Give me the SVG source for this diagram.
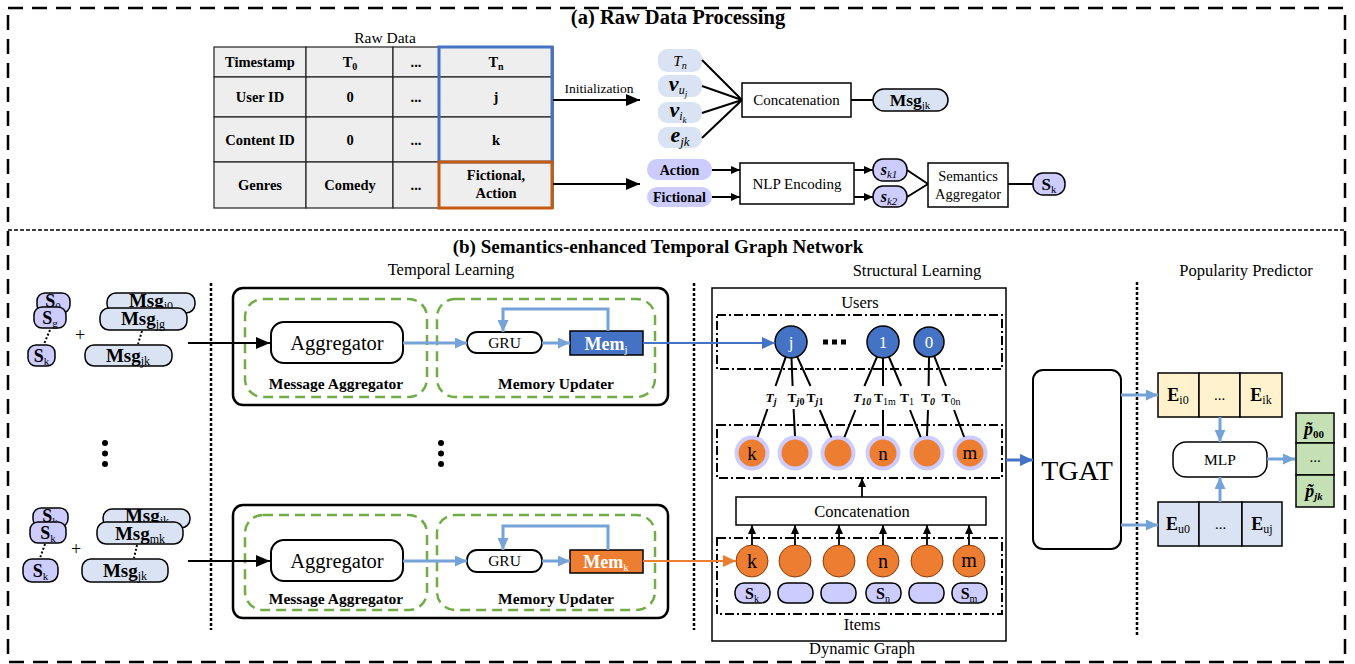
<svg xmlns="http://www.w3.org/2000/svg" width="1355" height="664" viewBox="0 0 1355 664">
<style>
text{font-family:"Liberation Serif","Times New Roman",serif;fill:#000}
.c{text-anchor:middle}
.b{font-weight:bold}
.i{font-style:italic}
.n{font-weight:normal}
.box{fill:#fff;stroke:#000;stroke-width:1.5}
.cell{fill:#eeeeee;stroke:#222;stroke-width:1.2}
.lav{fill:#ccccff;stroke:#000;stroke-width:1.5}
.lav0{fill:#ccccff}
.pb{fill:#dae3f3;stroke:#000;stroke-width:1.5}
.pb0{fill:#dae3f3}
.ln{fill:none;stroke:#000;stroke-width:2}
.up{stroke:#000;stroke-width:1.8}
.lb{fill:none;stroke:#76a3d7;stroke-width:3}
.grn{fill:none;stroke:#70ad47;stroke-width:2.5;stroke-dasharray:10 6}
.dd{fill:none;stroke:#000;stroke-width:2;stroke-dasharray:9 3 2 3}
.dots{fill:none;stroke:#000;stroke-width:2;stroke-dasharray:2 2}
.sep{fill:none;stroke:#000;stroke-width:2.5;stroke-dasharray:3 2}
.unode{fill:#4472c4;stroke:#000;stroke-width:1.5}
.inode{fill:#ed7d31;stroke:#8a3c0c;stroke-width:1}
</style>
<defs>
<marker id="mBig" viewBox="0 0 14 12" refX="14" refY="6" markerWidth="14" markerHeight="12" markerUnits="userSpaceOnUse" orient="auto"><path d="M0,0L14,6L0,12z" fill="#000"/></marker>
<marker id="mSm" viewBox="0 0 9 8" refX="9" refY="4" markerWidth="9" markerHeight="8" markerUnits="userSpaceOnUse" orient="auto"><path d="M0,0L9,4L0,8z" fill="#000"/></marker>
<marker id="mLb" viewBox="0 0 12 11" refX="12" refY="5.5" markerWidth="12" markerHeight="11" markerUnits="userSpaceOnUse" orient="auto"><path d="M0,0L12,5.5L0,11z" fill="#76a3d7"/></marker>
<marker id="mBl" viewBox="0 0 13 12" refX="13" refY="6" markerWidth="13" markerHeight="12" markerUnits="userSpaceOnUse" orient="auto"><path d="M0,0L13,6L0,12z" fill="#4472c4"/></marker>
<marker id="mOr" viewBox="0 0 13 12" refX="13" refY="6" markerWidth="13" markerHeight="12" markerUnits="userSpaceOnUse" orient="auto"><path d="M0,0L13,6L0,12z" fill="#ed7d31"/></marker>
</defs>

<!-- frames -->
<g id="frames">
<rect x="8" y="8" width="1337" height="654" fill="none" stroke="#000" stroke-width="2.5" stroke-dasharray="15 9"/>
<line x1="8" y1="230" x2="1345" y2="230" stroke="#000" stroke-width="1.5" stroke-dasharray="4 2"/>
<text x="678" y="24" class="c b" font-size="20.5">(a) Raw Data Processing</text>
<text x="658" y="253" class="c b" font-size="19">(b) Semantics-enhanced Temporal Graph Network</text>
<text x="451" y="275" class="c" font-size="16.5">Temporal Learning</text>
<text x="917" y="276" class="c" font-size="16.5">Structural Learning</text>
<text x="1246" y="276" class="c" font-size="16.5">Popularity Predictor</text>
<line x1="211" y1="283" x2="211" y2="630" class="sep"/>
<line x1="694" y1="283" x2="694" y2="630" class="sep"/>
<line x1="1137" y1="282" x2="1137" y2="636" class="sep"/>
</g>

<!-- raw data table -->
<g id="raw-table">
<text x="385" y="43" class="c" font-size="15.5">Raw Data</text>
<rect x="214" y="47" width="92" height="30" class="cell"/><rect x="306" y="47" width="87" height="30" class="cell"/><rect x="393" y="47" width="46" height="30" class="cell"/><rect x="439" y="47" width="114" height="30" class="cell"/>
<rect x="214" y="77" width="92" height="40" class="cell"/><rect x="306" y="77" width="87" height="40" class="cell"/><rect x="393" y="77" width="46" height="40" class="cell"/><rect x="439" y="77" width="114" height="40" class="cell"/>
<rect x="214" y="117" width="92" height="45" class="cell"/><rect x="306" y="117" width="87" height="45" class="cell"/><rect x="393" y="117" width="46" height="45" class="cell"/><rect x="439" y="117" width="114" height="45" class="cell"/>
<rect x="214" y="162" width="92" height="46" class="cell"/><rect x="306" y="162" width="87" height="46" class="cell"/><rect x="393" y="162" width="46" height="46" class="cell"/><rect x="439" y="162" width="114" height="46" class="cell"/>
<rect x="439" y="47" width="113" height="115" fill="none" stroke="#4472c4" stroke-width="3"/>
<rect x="439" y="162" width="113" height="46" fill="none" stroke="#c55a11" stroke-width="3"/>
<g class="b" font-size="14.5">
<text x="260" y="67" class="c b">Timestamp</text>
<text x="350" y="67" class="c b">T<tspan font-size="10" dy="3">0</tspan></text>
<text x="416" y="67" class="c b">...</text>
<text x="496" y="67" class="c b">T<tspan font-size="10" dy="3">n</tspan></text>
<text x="260" y="102" class="c b">User ID</text>
<text x="350" y="102" class="c b">0</text>
<text x="416" y="102" class="c b">...</text>
<text x="496" y="102" class="c b">j</text>
<text x="260" y="145" class="c b">Content ID</text>
<text x="350" y="145" class="c b">0</text>
<text x="416" y="145" class="c b">...</text>
<text x="496" y="145" class="c b">k</text>
<text x="260" y="190" class="c b">Genres</text>
<text x="350" y="190" class="c b">Comedy</text>
<text x="416" y="190" class="c b">...</text>
<text x="496" y="180" class="c b">Fictional,</text>
<text x="496" y="198" class="c b">Action</text>
</g>
</g>

<!-- message initialization -->
<g id="msg-inputs">
<rect x="658" y="49" width="44" height="23" rx="9" class="pb0"/>
<rect x="658" y="75" width="44" height="22" rx="9" class="pb0"/>
<rect x="658" y="102" width="44" height="21" rx="9" class="pb0"/>
<rect x="658" y="127" width="44" height="21" rx="9" class="pb0"/>
<text x="680" y="66" class="c i" font-size="15">T<tspan font-size="10" dy="3">n</tspan></text>
<text x="678" y="91" class="c b i" font-size="22">v<tspan class="n i" font-size="12" dy="3">u</tspan><tspan class="n i" font-size="9" dy="3">j</tspan></text>
<text x="678" y="117" class="c b i" font-size="22">v<tspan class="n i" font-size="12" dy="3">i</tspan><tspan class="n i" font-size="9" dy="3">k</tspan></text>
<text x="680" y="142" class="c b i" font-size="22">e<tspan class="n i" font-size="13" dy="4">jk</tspan></text>
</g>
<g id="concat-top">
<rect x="742" y="83" width="109" height="34" class="box"/>
<text x="796.5" y="105" class="c" font-size="15">Concatenation</text>
</g>
<g id="msg-out">
<rect x="873" y="89" width="75" height="22" rx="11" class="pb"/>
<text x="910" y="106" class="c b" font-size="17.5">Msg<tspan class="n" font-size="11" dy="3">jk</tspan></text>
</g>

<!-- genre semantics -->
<g id="genre-tags">
<rect x="647" y="159" width="65" height="21" rx="10" class="lav0"/>
<rect x="647" y="187" width="65" height="20" rx="10" class="lav0"/>
<text x="679.5" y="174.5" class="c b" font-size="14">Action</text>
<text x="679.5" y="202" class="c b" font-size="14">Fictional</text>
</g>
<g id="nlp">
<rect x="740" y="163" width="114" height="41" class="box"/>
<text x="797" y="189" class="c" font-size="15">NLP Encoding</text>
</g>
<g id="sem-vectors">
<rect x="873" y="159" width="34" height="22" rx="10" class="lav"/>
<rect x="873" y="186" width="34" height="21" rx="10" class="lav"/>
<text x="889" y="175" class="c b i" font-size="16">s<tspan class="n i" font-size="11" dy="3">k</tspan><tspan class="n" font-size="11">1</tspan></text>
<text x="889" y="202" class="c b i" font-size="16">s<tspan class="n i" font-size="11" dy="3">k</tspan><tspan class="n" font-size="11">2</tspan></text>
</g>
<g id="sem-agg">
<rect x="928" y="163" width="80" height="44" class="box"/>
<text x="968" y="181" class="c" font-size="14.5">Semantics</text>
<text x="968" y="199" class="c" font-size="14.5">Aggregator</text>
</g>
<g id="sem-out">
<rect x="1033" y="173" width="32" height="22" rx="10" class="lav"/>
<text x="1049" y="190" class="c b" font-size="17">S<tspan class="n" font-size="11" dy="3">k</tspan></text>
</g>

<!-- input sequences -->
<g id="seq-user">
<rect x="37" y="293" width="33" height="20" rx="8" class="lav"/>
<text x="53" y="307" class="c b" font-size="18">S<tspan class="n" font-size="11" dy="3">0</tspan></text>
<rect x="34" y="307" width="32" height="21" rx="8" class="lav"/>
<text x="50" y="324" class="c b" font-size="18">S<tspan class="n" font-size="11" dy="3">g</tspan></text>
<rect x="28" y="345" width="27" height="21" rx="8" class="lav"/>
<text x="41.5" y="362" class="c b" font-size="18">S<tspan class="n" font-size="11" dy="3">k</tspan></text>
<line x1="50" y1="330" x2="44" y2="344" class="dots"/>
<text x="80" y="341" class="c" font-size="18">+</text>
<rect x="107" y="293" width="88" height="20" rx="9" class="pb"/>
<text x="151" y="307" class="c b" font-size="19">Msg<tspan class="n" font-size="12" dy="3">j0</tspan></text>
<rect x="100" y="308" width="87" height="22" rx="9" class="pb"/>
<text x="143" y="325" class="c b" font-size="19">Msg<tspan class="n" font-size="12" dy="3">jg</tspan></text>
<rect x="85" y="345" width="87" height="21" rx="9" class="pb"/>
<text x="128" y="362" class="c b" font-size="19">Msg<tspan class="n" font-size="12" dy="3">jk</tspan></text>
<line x1="142" y1="331" x2="138" y2="344" class="dots"/>
</g>
<g id="seq-item">
<rect x="33" y="508" width="35" height="19" rx="8" class="lav"/>
<text x="50" y="522" class="c b" font-size="18">S<tspan class="n" font-size="11" dy="3">k</tspan></text>
<rect x="30" y="522" width="36" height="21" rx="8" class="lav"/>
<text x="48" y="539" class="c b" font-size="18">S<tspan class="n" font-size="11" dy="3">k</tspan></text>
<rect x="23" y="559" width="35" height="23" rx="9" class="lav"/>
<text x="40.5" y="577" class="c b" font-size="18">S<tspan class="n" font-size="11" dy="3">k</tspan></text>
<line x1="45" y1="544" x2="40" y2="558" class="dots"/>
<text x="76" y="555" class="c" font-size="18">+</text>
<rect x="103" y="509" width="87" height="19" rx="9" class="pb"/>
<text x="147" y="522" class="c b" font-size="19">Msg<tspan class="n" font-size="12" dy="3">jk</tspan></text>
<rect x="97" y="522" width="86" height="22" rx="9" class="pb"/>
<text x="140" y="540" class="c b" font-size="19">Msg<tspan class="n" font-size="12" dy="3">mk</tspan></text>
<rect x="82" y="559" width="86" height="23" rx="9" class="pb"/>
<text x="125" y="577" class="c b" font-size="19">Msg<tspan class="n" font-size="12" dy="3">jk</tspan></text>
<line x1="137" y1="545" x2="134" y2="558" class="dots"/>
</g>
<g id="vdots">
<circle cx="105" cy="443" r="3"/><circle cx="105" cy="453.5" r="3"/><circle cx="105" cy="464" r="3"/>
<circle cx="441" cy="443" r="3"/><circle cx="441" cy="453.5" r="3"/><circle cx="441" cy="464" r="3"/>
</g>

<!-- temporal learning, user side -->
<g id="temporal-user">
<rect x="233" y="288" width="435" height="117" rx="10" fill="none" stroke="#000" stroke-width="2.5"/>
<rect x="245" y="299" width="182" height="98" rx="18" class="grn"/>
<rect x="437" y="299" width="218" height="98" rx="18" class="grn"/>
<rect x="271" y="322" width="132" height="41" rx="13" fill="#fff" stroke="#000" stroke-width="2"/>
<text x="337" y="350" class="c" font-size="20.5">Aggregator</text>
<text x="336" y="389" class="c b" font-size="15.5">Message Aggregator</text>
<text x="556" y="389" class="c b" font-size="15.5">Memory Updater</text>
<rect x="467" y="332" width="75" height="21" rx="10" fill="#fff" stroke="#000" stroke-width="1.8"/>
<text x="504.5" y="348" class="c" font-size="15.5">GRU</text>
<rect x="570" y="331" width="73" height="24" fill="#4472c4" stroke="#000" stroke-width="1.5"/>
<text x="606" y="350" class="c b" font-size="18" style="fill:#fff">Mem<tspan class="n" font-size="11" dy="3" style="fill:#fff">j</tspan></text>
</g>

<!-- temporal learning, item side -->
<g id="temporal-item">
<rect x="233" y="505" width="435" height="113" rx="10" fill="none" stroke="#000" stroke-width="2.5"/>
<rect x="245" y="515" width="182" height="95" rx="18" class="grn"/>
<rect x="437" y="515" width="218" height="95" rx="18" class="grn"/>
<rect x="271" y="540" width="132" height="41" rx="13" fill="#fff" stroke="#000" stroke-width="2"/>
<text x="337" y="568" class="c" font-size="20.5">Aggregator</text>
<text x="336" y="604" class="c b" font-size="15.5">Message Aggregator</text>
<text x="556" y="604" class="c b" font-size="15.5">Memory Updater</text>
<rect x="467" y="550" width="75" height="22" rx="10" fill="#fff" stroke="#000" stroke-width="1.8"/>
<text x="504.5" y="566" class="c" font-size="15.5">GRU</text>
<rect x="570" y="550" width="73" height="23" fill="#ed7d31" stroke="#000" stroke-width="1.5"/>
<text x="606" y="568" class="c b" font-size="18" style="fill:#fff">Mem<tspan class="n" font-size="11" dy="3" style="fill:#fff">k</tspan></text>
</g>

<!-- dynamic graph -->
<g id="dynamic-graph">
<rect x="712" y="288" width="294" height="353" fill="none" stroke="#000" stroke-width="1.5"/>
<text x="860" y="308" class="c" font-size="16.5">Users</text>
<text x="862" y="630" class="c" font-size="16.5">Items</text>
<text x="862" y="654" class="c" font-size="16.5">Dynamic Graph</text>
<rect x="717" y="315" width="285" height="54" class="dd"/>
<rect x="717" y="425" width="285" height="53" class="dd"/>
<rect x="717" y="538" width="285" height="76" class="dd"/>
</g>
<g id="users">
<circle cx="791" cy="342" r="16" class="unode"/>
<circle cx="883" cy="342" r="16" class="unode"/>
<circle cx="929" cy="342" r="15" class="unode"/>
<text x="791" y="348" class="c" font-size="17" style="fill:#fff">j</text>
<text x="883" y="348" class="c" font-size="17" style="fill:#fff">1</text>
<text x="929" y="348" class="c" font-size="17" style="fill:#fff">0</text>
<rect x="823" y="339.5" width="5" height="5"/><rect x="832" y="339.5" width="5" height="5"/><rect x="841" y="339.5" width="5" height="5"/>
</g>
<g id="items-embedded">
<circle cx="752" cy="453" r="17.5" class="lav0"/><circle cx="795" cy="453" r="17.5" class="lav0"/><circle cx="838" cy="453" r="17.5" class="lav0"/>
<circle cx="883" cy="453" r="17.5" class="lav0"/><circle cx="927" cy="453" r="17.5" class="lav0"/><circle cx="970" cy="453" r="17.5" class="lav0"/>
<circle cx="752" cy="453" r="13.5" fill="#ed7d31"/><circle cx="795" cy="453" r="13.5" fill="#ed7d31"/><circle cx="838" cy="453" r="13.5" fill="#ed7d31"/>
<circle cx="883" cy="453" r="13.5" fill="#ed7d31"/><circle cx="927" cy="453" r="13.5" fill="#ed7d31"/><circle cx="970" cy="453" r="13.5" fill="#ed7d31"/>
<text x="752" y="460" class="c" font-size="19">k</text>
<text x="883" y="460" class="c" font-size="19">n</text>
<text x="970" y="459" class="c" font-size="19">m</text>
</g>
<g id="concat-graph">
<rect x="736" y="497" width="250" height="28" fill="#fff" stroke="#000" stroke-width="1.5"/>
<text x="862" y="517" class="c" font-size="16.5">Concatenation</text>
</g>
<g id="items-raw">
<circle cx="752" cy="561" r="16" class="inode"/><circle cx="795" cy="561" r="16" class="inode"/><circle cx="839" cy="561" r="16" class="inode"/>
<circle cx="883" cy="561" r="16" class="inode"/><circle cx="927" cy="561" r="16" class="inode"/><circle cx="969" cy="561" r="16" class="inode"/>
<text x="752" y="568" class="c" font-size="20">k</text>
<text x="883" y="568" class="c" font-size="20">n</text>
<text x="969" y="567" class="c" font-size="20">m</text>
<rect x="735" y="583" width="35" height="20" rx="9" class="lav" stroke-width="1.2"/>
<rect x="778" y="583" width="35" height="20" rx="9" class="lav" stroke-width="1.2"/>
<rect x="821" y="583" width="35" height="20" rx="9" class="lav" stroke-width="1.2"/>
<rect x="866" y="583" width="35" height="20" rx="9" class="lav" stroke-width="1.2"/>
<rect x="909" y="583" width="35" height="20" rx="9" class="lav" stroke-width="1.2"/>
<rect x="952" y="583" width="35" height="20" rx="9" class="lav" stroke-width="1.2"/>
<text x="752" y="599" class="c b" font-size="16">S<tspan class="n" font-size="10" dy="3">k</tspan></text>
<text x="883" y="599" class="c b" font-size="16">S<tspan class="n" font-size="10" dy="3">n</tspan></text>
<text x="969" y="599" class="c b" font-size="16">S<tspan class="n" font-size="10" dy="3">m</tspan></text>
</g>

<!-- predictor -->
<g id="tgat">
<rect x="1033" y="370" width="88" height="179" rx="10" fill="#fff" stroke="#000" stroke-width="2"/>
<text x="1077" y="480" class="c" font-size="28">TGAT</text>
</g>
<g id="item-emb">
<rect x="1158" y="373" width="41" height="44" fill="#fff2cc" stroke="#000" stroke-width="1.5"/>
<rect x="1199" y="373" width="41" height="44" fill="#fff2cc" stroke="#000" stroke-width="1.5"/>
<rect x="1240" y="373" width="42" height="44" fill="#fff2cc" stroke="#000" stroke-width="1.5"/>
<text x="1178" y="401" class="c b" font-size="18">E<tspan class="n" font-size="12" dy="3">i0</tspan></text>
<text x="1219.5" y="400" class="c" font-size="15">...</text>
<text x="1261" y="401" class="c b" font-size="18">E<tspan class="n" font-size="12" dy="3">ik</tspan></text>
</g>
<g id="user-emb">
<rect x="1158" y="502" width="41" height="44" fill="#dae3f3" stroke="#000" stroke-width="1.5"/>
<rect x="1199" y="502" width="43" height="44" fill="#dae3f3" stroke="#000" stroke-width="1.5"/>
<rect x="1242" y="502" width="40" height="44" fill="#dae3f3" stroke="#000" stroke-width="1.5"/>
<text x="1178" y="530" class="c b" font-size="18">E<tspan class="n" font-size="12" dy="3">u0</tspan></text>
<text x="1220.5" y="529" class="c" font-size="15">...</text>
<text x="1262" y="530" class="c b" font-size="18">E<tspan class="n" font-size="12" dy="3">uj</tspan></text>
</g>
<g id="mlp">
<rect x="1173" y="442" width="94" height="35" rx="13" fill="#fff" stroke="#000" stroke-width="1.5"/>
<text x="1220" y="465" class="c" font-size="15.5">MLP</text>
</g>
<g id="popularity">
<rect x="1296" y="413" width="38" height="30" fill="#c5e0b4" stroke="#000" stroke-width="1.5"/>
<rect x="1296" y="443" width="38" height="32" fill="#c5e0b4" stroke="#000" stroke-width="1.5"/>
<rect x="1296" y="475" width="38" height="32" fill="#c5e0b4" stroke="#000" stroke-width="1.5"/>
<text x="1314" y="435" class="c b i" font-size="18">p&#x303;<tspan class="b" font-style="normal" font-size="11" dy="3">00</tspan></text>
<text x="1315" y="462" class="c" font-size="15">...</text>
<text x="1314" y="497" class="c b i" font-size="18">p&#x303;<tspan class="b i" font-size="11" dy="3">jk</tspan></text>
</g>

<!-- connectors -->
<g id="connectors">
<line x1="553" y1="100" x2="640" y2="100" class="ln" marker-end="url(#mBig)"/>
<text x="599" y="93" class="c" font-size="13.5">Initialization</text>
<line x1="553" y1="184" x2="640" y2="184" class="ln" marker-end="url(#mBig)"/>
<path d="M702,60L742,100M702,86L742,100M702,113L742,100M702,138L742,100" class="ln"/>
<line x1="851" y1="100" x2="873" y2="100" class="ln"/>
<line x1="712" y1="170" x2="740" y2="170" class="ln" marker-end="url(#mSm)"/>
<line x1="712" y1="197" x2="740" y2="197" class="ln" marker-end="url(#mSm)"/>
<line x1="854" y1="170" x2="873" y2="170" class="ln" marker-end="url(#mSm)"/>
<line x1="854" y1="197" x2="873" y2="197" class="ln" marker-end="url(#mSm)"/>
<path d="M907,170L928,184M907,197L928,184" class="ln"/>
<line x1="1008" y1="184" x2="1033" y2="184" class="ln"/>

<line x1="188" y1="343" x2="270" y2="343" class="ln" marker-end="url(#mBig)"/>
<line x1="188" y1="561" x2="270" y2="561" class="ln" marker-end="url(#mBig)"/>

<line x1="403" y1="343" x2="467" y2="343" class="lb" marker-end="url(#mLb)"/>
<line x1="542" y1="343" x2="570" y2="343" class="lb" marker-end="url(#mLb)"/>
<path d="M608,331V309H503V332" class="lb" marker-end="url(#mLb)"/>
<line x1="403" y1="561" x2="467" y2="561" class="lb" marker-end="url(#mLb)"/>
<line x1="542" y1="561" x2="570" y2="561" class="lb" marker-end="url(#mLb)"/>
<path d="M608,550V526H503V550" class="lb" marker-end="url(#mLb)"/>

<line x1="643" y1="343" x2="775" y2="343" stroke="#4472c4" stroke-width="2" marker-end="url(#mBl)"/>
<line x1="643" y1="561" x2="736" y2="561" stroke="#ed7d31" stroke-width="2" marker-end="url(#mOr)"/>

<!-- interaction edges, broken around their time labels -->
<path d="M785.7,357.1L775.5,386M767.5,409L757.6,437
M791.5,358L792.6,386M793.6,409L795,436
M797.2,356.7L810.5,386M819.8,410L831.4,437.3
M877,356.8L864.4,386M855.4,410L844.4,437.2
M883,358L883,386M883,410L883,436
M888.9,356.9L901.2,386M910,410L920.7,437.2
M929,357L928.6,386M928,410L927,436
M934.2,356.1L946,386M954.1,410L964.1,437" class="ln"/>
<g font-size="13.5" class="b">
<text x="771" y="402" class="c b i">T<tspan font-size="10" dy="3">j</tspan></text>
<text x="796" y="402" class="c b">T<tspan class="i" font-size="10" dy="3">j</tspan><tspan font-size="10">0</tspan></text>
<text x="815" y="402" class="c b">T<tspan class="i" font-size="10" dy="3">j</tspan><tspan font-size="10">1</tspan></text>
<text x="862" y="402" class="c b i">T<tspan font-size="10" dy="3">10</tspan></text>
<text x="885" y="402" class="c b">T<tspan class="n" font-size="10" dy="3">1m</tspan></text>
<text x="907" y="402" class="c b">T<tspan class="n" font-size="10" dy="3">1</tspan></text>
<text x="928" y="402" class="c b">T<tspan class="i" font-size="10" dy="3">0</tspan></text>
<text x="951" y="402" class="c b">T<tspan class="n" font-size="10" dy="3">0n</tspan></text>
</g>

<line x1="752" y1="545" x2="752" y2="525" class="up" marker-end="url(#mSm)"/>
<line x1="795" y1="545" x2="795" y2="525" class="up" marker-end="url(#mSm)"/>
<line x1="839" y1="545" x2="839" y2="525" class="up" marker-end="url(#mSm)"/>
<line x1="883" y1="545" x2="883" y2="525" class="up" marker-end="url(#mSm)"/>
<line x1="927" y1="545" x2="927" y2="525" class="up" marker-end="url(#mSm)"/>
<line x1="969" y1="545" x2="969" y2="525" class="up" marker-end="url(#mSm)"/>
<line x1="862" y1="497" x2="862" y2="478" class="up" marker-end="url(#mSm)"/>

<line x1="1006" y1="460" x2="1033" y2="460" stroke="#4472c4" stroke-width="3" marker-end="url(#mBl)"/>
<line x1="1121" y1="395" x2="1158" y2="395" class="lb" marker-end="url(#mLb)"/>
<line x1="1121" y1="525" x2="1158" y2="525" class="lb" marker-end="url(#mLb)"/>
<line x1="1220" y1="417" x2="1220" y2="442" class="lb" marker-end="url(#mLb)"/>
<line x1="1220" y1="502" x2="1220" y2="477" class="lb" marker-end="url(#mLb)"/>
<line x1="1267" y1="459" x2="1295" y2="459" class="lb" marker-end="url(#mLb)"/>
</g>
</svg>
